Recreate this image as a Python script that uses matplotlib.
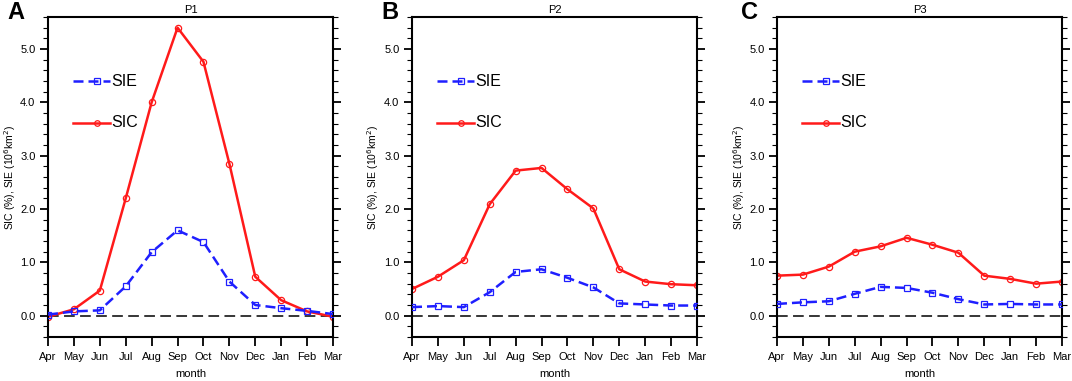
import matplotlib
matplotlib.use("Agg")
import matplotlib.pyplot as plt
import numpy as np
from matplotlib.ticker import MultipleLocator

months = ["Apr", "May", "Jun", "Jul", "Aug", "Sep", "Oct", "Nov", "Dec", "Jan", "Feb", "Mar"]
titles = ["P1", "P2", "P3"]
letters = ["A", "B", "C"]

sic_p1 = [-0.02, 0.12, 0.47, 2.20, 4.00, 5.40, 4.76, 2.85, 0.73, 0.29, 0.08, -0.02]
sie_p1 = [0.02, 0.08, 0.10, 0.55, 1.19, 1.60, 1.38, 0.64, 0.20, 0.14, 0.09, 0.03]
sic_p2 = [0.50, 0.73, 1.04, 2.09, 2.72, 2.77, 2.37, 2.01, 0.87, 0.64, 0.59, 0.57]
sie_p2 = [0.16, 0.18, 0.16, 0.44, 0.82, 0.87, 0.71, 0.53, 0.23, 0.21, 0.19, 0.19]
sic_p3 = [0.75, 0.77, 0.92, 1.20, 1.30, 1.46, 1.33, 1.18, 0.75, 0.69, 0.60, 0.64]
sie_p3 = [0.22, 0.25, 0.27, 0.41, 0.54, 0.52, 0.43, 0.31, 0.21, 0.22, 0.21, 0.21]

sic_all = [sic_p1, sic_p2, sic_p3]
sie_all = [sie_p1, sie_p2, sie_p3]

plt.rcParams['font.family'] = ['Liberation Sans', 'DejaVu Sans']

W, H = 1072, 381
fig = plt.figure(figsize=(W / 100, H / 100), dpi=100)

lefts = [48, 412, 777]
axw = 285
top, bottom = 17, 337
ylab_x = [10, 373, 739]
letter_x = [7, 381, 741]

x = np.arange(len(months))
for i in range(3):
    ax = fig.add_axes([lefts[i] / W, 1 - bottom / H, axw / W, (bottom - top) / H])
    ax.axhline(0, color='black', lw=1.1, dashes=(7, 3.5), zorder=1)
    ax.plot(x, sie_all[i], color='#1f1fff', lw=1.8, ls=(0, (4, 2)), marker='s',
            markersize=4.5, markerfacecolor='none', markeredgecolor='#1f1fff',
            markeredgewidth=0.9, zorder=3)
    ax.plot(x, sic_all[i], color='#ff1a1a', lw=1.8, marker='o', markersize=4.5,
            markerfacecolor='none', markeredgecolor='#ff1a1a', markeredgewidth=0.9,
            zorder=2)
    ax.set_xlim(0, 11)
    ax.set_ylim(-0.4, 5.6)
    ax.set_xticks(x)
    ax.set_xticklabels(months, fontsize=8)
    ax.set_yticks([0, 1, 2, 3, 4, 5])
    ax.set_yticklabels(["0.0", "1.0", "2.0", "3.0", "4.0", "5.0"], fontsize=8)
    ax.yaxis.set_minor_locator(MultipleLocator(0.2))
    ax.tick_params(axis='y', which='major', direction='out', length=6, width=1.3,
                   left=True, right=True, pad=3)
    ax.tick_params(axis='y', which='minor', direction='out', length=3.5, width=0.8,
                   left=True, right=True)
    ax.tick_params(axis='x', which='major', direction='out', length=6.5, width=1.3,
                   bottom=True, top=False, pad=4)
    for s in ax.spines.values():
        s.set_linewidth(1.5)
    ax.set_xlabel("month", fontsize=8, labelpad=5)
    fig.text(ylab_x[i] / W, 1 - ((top + bottom) / 2) / H,
             "SIC (%), SIE (10$^6$km$^2$)", rotation=90, fontsize=7.5,
             ha='center', va='center')
    ax.set_title(titles[i], fontsize=8, pad=3)
    fig.text(letter_x[i] / W, 1 - 19 / H, letters[i], fontsize=17, fontweight='bold',
             ha='left', va='baseline')
    # legend-like annotations
    xd = ax.transAxes
    lx0, lx1 = 25 / axw, 62 / axw
    ax.plot([lx0, lx1], [0.80, 0.80], transform=xd, color='#1f1fff', lw=1.8,
            ls=(0, (4, 2)), clip_on=False)
    ax.plot([(lx0 + lx1) / 2 + 0.02], [0.80], transform=xd, marker='s', markersize=4,
            markerfacecolor='none', markeredgecolor='#1f1fff', markeredgewidth=0.9)
    ax.text(lx1 + 0.005, 0.80, "SIE", transform=xd, fontsize=11.5, va='center', ha='left')
    ax.plot([lx0, lx1], [0.67, 0.67], transform=xd, color='#ff1a1a', lw=1.8,
            clip_on=False)
    ax.plot([(lx0 + lx1) / 2 + 0.02], [0.67], transform=xd, marker='o', markersize=4,
            markerfacecolor='none', markeredgecolor='#ff1a1a', markeredgewidth=0.9)
    ax.text(lx1 + 0.005, 0.67, "SIC", transform=xd, fontsize=11.5, va='center', ha='left')

fig.savefig("out.png", dpi=100)
